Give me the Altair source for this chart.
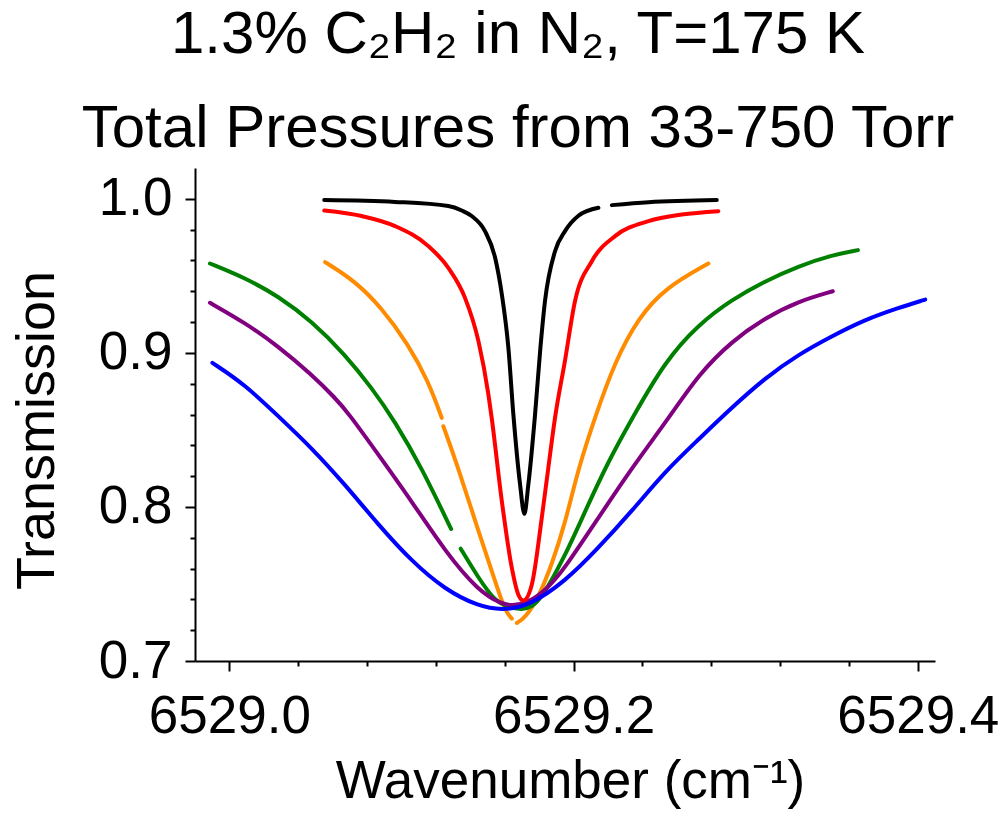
import altair as alt
import pandas as pd

# Transmission spectra of one C2H2 line, one trace per total pressure.
# wn_* : wavenumber (cm-1), tr_* : transmission, brk_* : index where a new
# stretch of data starts after missing points.
wn_p1 = [6529.0551, 6529.0962, 6529.1272, 6529.1350, 6529.1408, 6529.1485, 6529.1544,
         6529.1583, 6529.1621, 6529.1650, 6529.1689, 6529.1714, 6529.1737, 6529.1776,
         6529.1807, 6529.1834, 6529.1892, 6529.1950, 6529.2028, 6529.2144, 6529.2222,
         6529.2435, 6529.2832]
tr_p1 = [0.9992, 0.9980, 0.9953, 0.9924, 0.9888, 0.9790, 0.9617,
         0.9379, 0.9032, 0.8600, 0.8145, 0.7955, 0.8145, 0.8600,
         0.9032, 0.9338, 0.9660, 0.9790, 0.9890, 0.9942, 0.9959,
         0.9978, 0.9992]
brk_p1 = [20]

wn_p2 = [6529.0551, 6529.0769, 6529.0962, 6529.1156, 6529.1272, 6529.1369, 6529.1447,
         6529.1505, 6529.1524, 6529.1583, 6529.1641, 6529.1679, 6529.1708, 6529.1757,
         6529.1815, 6529.1853, 6529.1892, 6529.1950, 6529.2008, 6529.2106, 6529.2241,
         6529.2435, 6529.2629, 6529.2841]
tr_p2 = [0.9924, 0.9888, 0.9823, 0.9693, 0.9552, 0.9357, 0.9076,
         0.8729, 0.8578, 0.8037, 0.7604, 0.7430, 0.7392, 0.7495,
         0.7929, 0.8253, 0.8578, 0.8950, 0.9335, 0.9595, 0.9758,
         0.9855, 0.9898, 0.9920]
brk_p2 = []

wn_p3 = [6529.0556, 6529.0730, 6529.0885, 6529.1040, 6529.1156, 6529.1234,
         6529.1243, 6529.1330, 6529.1447, 6529.1544, 6529.1602, 6529.1641,
         6529.1670, 6529.1718, 6529.1795, 6529.1873, 6529.1950, 6529.2028, 6529.2125,
         6529.2241, 6529.2376, 6529.2532, 6529.2783]
tr_p3 = [0.9589, 0.9466, 0.9292, 0.9054, 0.8816, 0.8578,
         0.8524, 0.8253, 0.7842, 0.7518, 0.7323, 0.7275,
         0.7247, 0.7279, 0.7409, 0.7625, 0.7890, 0.8253, 0.8585,
         0.8946, 0.9227, 0.9422, 0.9580]
brk_p3 = [6, 12]

wn_p4 = [6528.9887, 6529.0091, 6529.0284, 6529.0478, 6529.0672, 6529.0827, 6529.0962,
         6529.1118, 6529.1288,
         6529.1344, 6529.1447, 6529.1544, 6529.1620, 6529.1700, 6529.1760, 6529.1815,
         6529.1950, 6529.2067, 6529.2202, 6529.2347, 6529.2532, 6529.2725, 6529.2919,
         6529.3113, 6529.3306, 6529.3500, 6529.3652]
tr_p4 = [0.9580, 0.9487, 0.9368, 0.9206, 0.8989, 0.8773, 0.8555,
         0.8253, 0.7857,
         0.7729, 0.7539, 0.7387, 0.7350, 0.7332, 0.7352, 0.7409,
         0.7680, 0.7972, 0.8297, 0.8589, 0.8946, 0.9184, 0.9346,
         0.9466, 0.9563, 0.9634, 0.9667]
brk_p4 = [9]

wn_p5 = [6528.9887, 6529.0091, 6529.0284, 6529.0478, 6529.0614, 6529.0691, 6529.0865,
         6529.1059, 6529.1253, 6529.1447, 6529.1583, 6529.1641, 6529.1737, 6529.1853,
         6529.1950, 6529.2144, 6529.2338, 6529.2561, 6529.2725, 6529.2919, 6529.3113,
         6529.3306, 6529.3506]
tr_p5 = [0.9325, 0.9195, 0.9043, 0.8859, 0.8708, 0.8610, 0.8340,
         0.8037, 0.7712, 0.7453, 0.7370, 0.7358, 0.7377, 0.7474,
         0.7604, 0.7929, 0.8253, 0.8589, 0.8859, 0.9076, 0.9227,
         0.9335, 0.9400]
brk_p5 = []

wn_p6 = [6528.9901, 6529.0091, 6529.0294, 6529.0478, 6529.0672, 6529.0865, 6529.1059,
         6529.1253, 6529.1447, 6529.1583, 6529.1737, 6529.1950, 6529.2144, 6529.2338,
         6529.2532, 6529.2725, 6529.2890, 6529.3113, 6529.3306, 6529.3500, 6529.3694,
         6529.3888, 6529.4043]
tr_p6 = [0.8935, 0.8794, 0.8578, 0.8383, 0.8145, 0.7885, 0.7647,
         0.7463, 0.7355, 0.7329, 0.7355, 0.7515, 0.7734, 0.7972,
         0.8232, 0.8437, 0.8615, 0.8838, 0.8989, 0.9108, 0.9216,
         0.9292, 0.9346]
brk_p6 = []

series_names = ["P1", "P2", "P3", "P4", "P5", "P6"]
series_colors = ["#000000", "#ff0000", "#ff8c00", "#008000", "#800080", "#0000ff"]
# traces with a sharp core are drawn through every point, the broad ones smoothed
sharp_series = ["P1", "P2"]

# Axis ticks: every value gets a tick, majors get a label and a longer tick.
x_ticks = [6529.00, 6529.04, 6529.08, 6529.12, 6529.16, 6529.20,
           6529.24, 6529.28, 6529.32, 6529.36, 6529.40]
y_ticks = [0.70, 0.72, 0.74, 0.76, 0.78, 0.80, 0.82, 0.84, 0.86, 0.88,
           0.90, 0.92, 0.94, 0.96, 0.98, 1.00]

rows = []
for name, xs, ys, brks in [
    ("P1", wn_p1, tr_p1, brk_p1),
    ("P2", wn_p2, tr_p2, brk_p2),
    ("P3", wn_p3, tr_p3, brk_p3),
    ("P4", wn_p4, tr_p4, brk_p4),
    ("P5", wn_p5, tr_p5, brk_p5),
    ("P6", wn_p6, tr_p6, brk_p6),
]:
    piece = 0
    for i, (xv, yv) in enumerate(zip(xs, ys)):
        if i in brks:
            piece += 1
        rows.append({"series": name, "piece": f"{name}-{piece}", "idx": i,
                     "sharp": name in sharp_series,
                     "wavenumber": xv, "transmission": yv})
df = pd.DataFrame(rows)

FONT = "Liberation Sans"
x_major = "abs(datum.value*5 - round(datum.value*5)) < 0.001"
y_major = "abs(datum.value*10 - round(datum.value*10)) < 0.001"

x_enc = alt.X(
    "wavenumber:Q",
    scale=alt.Scale(domain=[6528.98, 6529.41], nice=False, zero=False),
    axis=alt.Axis(
        values=x_ticks,
        labelExpr=f"{x_major} ? format(datum.value, '.1f') : ''",
        tickSize={"condition": {"test": x_major, "value": 10}, "value": 5},
        title="Wavenumber (cm\u207b\u00b9)",
        titleX=375, titleY=136, titleBaseline="alphabetic",
        labelPadding=19, labelFlush=False, labelOverlap=False,
    ),
)
y_enc = alt.Y(
    "transmission:Q",
    scale=alt.Scale(domain=[0.7, 1.02], nice=False, zero=False),
    axis=alt.Axis(
        values=y_ticks,
        labelExpr=f"{y_major} ? format(datum.value, '.1f') : ''",
        tickSize={"condition": {"test": y_major, "value": 10}, "value": 5},
        title="Transmission",
        titleX=-142, titleY=262, titleBaseline="alphabetic", titleAngle=270,
        titleFontSize=54,
        labelPadding=13, labelFlush=False, labelOverlap=False,
    ),
)
color_enc = alt.Color("series:N", scale=alt.Scale(domain=series_names, range=series_colors),
                      legend=None)

base = alt.Chart(df).encode(
    x=x_enc, y=y_enc, color=color_enc, detail="piece:N", order="idx:Q"
)

narrow = base.transform_filter(alt.datum.sharp).mark_line(
    strokeWidth=4, interpolate="monotone", strokeCap="round", strokeJoin="round"
)
broad = base.transform_filter(~alt.datum.sharp).mark_line(
    strokeWidth=4, interpolate="basis", strokeCap="round", strokeJoin="round"
)

chart = alt.layer(broad, narrow).properties(
    width=740,
    height=493,
    autosize="none",
    padding={"left": 195, "top": 168, "right": 69, "bottom": 155},
    title=alt.TitleParams(
        text=["1.3% C\u2082H\u2082 in N\u2082, T=175 K", "Total Pressures from 33-750 Torr"],
        fontSize=60, font=FONT, fontWeight="normal", color="#000000",
        anchor="middle", dx=-47, offset=8, lineHeight=94,
    ),
).configure_view(
    stroke=None
).configure_axis(
    domainColor="#000000", domainWidth=2, tickColor="#000000", tickWidth=2,
    grid=False, labelFont=FONT, labelFontSize=53, labelColor="#000000",
    titleFont=FONT, titleFontSize=53, titleFontWeight="normal", titleColor="#000000",
)

chart.save("out.html", embed_options={"renderer": "svg", "actions": False})
